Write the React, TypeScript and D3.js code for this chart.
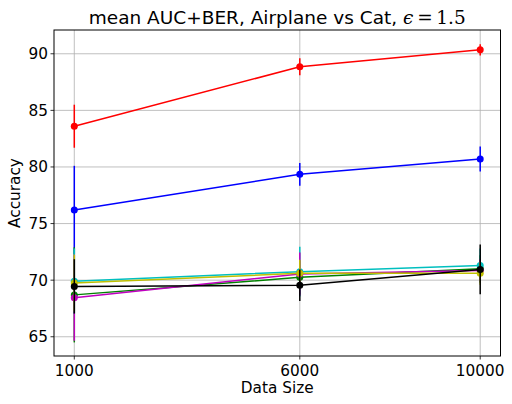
import React from 'react';
import * as d3 from 'd3';

const dataSizes = [1000, 6000, 10000];
const xTicks = [1000, 6000, 10000];
const yTicks = [65, 70, 75, 80, 85, 90];

const seriesNames = ['red', 'blue', 'green', 'cyan', 'magenta', 'yellow', 'black'];
const seriesColors = ['#ff0000', '#0000ff', '#008000', '#00bfbf', '#bf00bf', '#bfbf00', '#000000'];
const redMean = [83.6, 88.85, 90.35];
const redErr = [1.9, 0.75, 0.5];
const blueMean = [76.2, 79.35, 80.7];
const blueErr = [3.9, 1.0, 1.1];
const greenMean = [68.7, 70.25, 71.0];
const greenErr = [4.2, 1.5, 1.2];
const cyanMean = [69.9, 70.75, 71.3];
const cyanErr = [2.9, 2.2, 1.5];
const magentaMean = [68.45, 70.55, 70.85];
const magentaErr = [3.8, 1.9, 1.0];
const yellowMean = [69.75, 70.6, 70.6];
const yellowErr = [2.5, 1.2, 1.0];
const blackMean = [69.45, 69.55, 70.95];
const blackErr = [2.4, 1.4, 2.2];

const means = [redMean, blueMean, greenMean, cyanMean, magentaMean, yellowMean, blackMean];
const errs = [redErr, blueErr, greenErr, cyanErr, magentaErr, yellowErr, blackErr];

const W = 512;
const H = 404;
const left = 54;
const right = 500.5;
const top = 30;
const bottom = 356;

export default function App() {
  const x = d3.scaleLinear().domain([550, 10450]).range([left, right]);
  const y = d3.scaleLinear().domain([63.3, 92.1]).range([bottom, top]);
  const line = d3.line<number>()
    .x((_, i) => x(dataSizes[i]))
    .y((d) => y(d));

  const font = 'DejaVu Sans, sans-serif';

  return (
    <div style={{ position: 'absolute', left: 0, top: 0 }}>
      <svg width={W} height={H} style={{ display: 'block', background: '#fff' }}>
        {/* grid */}
        {xTicks.map((t) => (
          <line key={'gx' + t} x1={x(t)} x2={x(t)} y1={top} y2={bottom} stroke="#b0b0b0" strokeWidth={0.8} />
        ))}
        {yTicks.map((t) => (
          <line key={'gy' + t} x1={left} x2={right} y1={y(t)} y2={y(t)} stroke="#b0b0b0" strokeWidth={0.8} />
        ))}

        {/* series: error bars, then line and markers */}
        {seriesNames.map((name, s) => (
          <g key={name}>
            {means[s].map((m, i) => (
              <line
                key={i}
                x1={x(dataSizes[i])}
                x2={x(dataSizes[i])}
                y1={y(m - errs[s][i])}
                y2={y(m + errs[s][i])}
                stroke={seriesColors[s]}
                strokeWidth={1.5}
              />
            ))}
            <path d={line(means[s]) || ''} fill="none" stroke={seriesColors[s]} strokeWidth={1.5} />
            {means[s].map((m, i) => (
              <circle key={'c' + i} cx={x(dataSizes[i])} cy={y(m)} r={3.5} fill={seriesColors[s]} />
            ))}
          </g>
        ))}

        {/* frame */}
        <rect x={left} y={top} width={right - left} height={bottom - top} fill="none" stroke="#000" strokeWidth={1} />

        {/* y ticks */}
        {yTicks.map((t) => (
          <g key={'ty' + t}>
            <line x1={left - 3.5} x2={left} y1={y(t)} y2={y(t)} stroke="#000" strokeWidth={0.8} />
            <text x={left - 6} y={y(t)} dy="0.35em" textAnchor="end" fontFamily={font} fontSize={15.3}>{t}</text>
          </g>
        ))}
        {/* x ticks */}
        {xTicks.map((t) => (
          <g key={'tx' + t}>
            <line x1={x(t)} x2={x(t)} y1={bottom} y2={bottom + 3.5} stroke="#000" strokeWidth={0.8} />
            <text x={x(t)} y={bottom + 20} textAnchor="middle" fontFamily={font} fontSize={15.3}>{t}</text>
          </g>
        ))}

        <text x={(left + right) / 2} y={393} textAnchor="middle" fontFamily={font} fontSize={15.3}>Data Size</text>
        <text transform={`translate(20,${(top + bottom) / 2}) rotate(-90)`} textAnchor="middle" fontFamily={font} fontSize={15.3}>Accuracy</text>

        <text x={(left + right) / 2} y={24} textAnchor="middle" fontFamily={font} fontSize={18.5}>
          mean AUC+BER, Airplane vs Cat,{' '}
          <tspan fontFamily="DejaVu Serif, serif" fontStyle="italic">ϵ</tspan>
          <tspan fontFamily="DejaVu Serif, serif">{'\u2009=\u20091.5'}</tspan>
        </text>
      </svg>
    </div>
  );
}
